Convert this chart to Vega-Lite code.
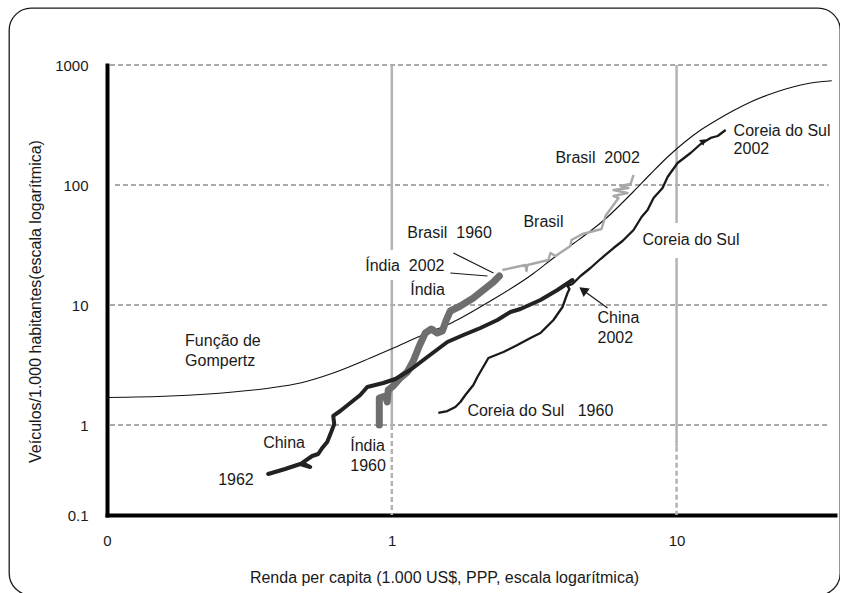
{
  "$schema": "https://vega.github.io/schema/vega-lite/v6.json",
  "width": 831,
  "height": 587,
  "autosize": {"type": "none"},
  "padding": {"left": 9, "top": 8, "right": 0, "bottom": 0},
  "background": "white",
  "config": {
    "font": "Liberation Sans",
    "view": {"stroke": "#1a1a1a", "strokeWidth": 1.3, "cornerRadius": 22},
    "axis": {
      "grid": false, "ticks": false, "tickSize": 0,
      "domainColor": "#000000", "domainWidth": 4, "domainCap": "square",
      "labelFont": "Liberation Sans", "labelFontSize": 15, "labelColor": "#1a1a1a",
      "titleFont": "Liberation Sans", "titleFontSize": 16, "titleFontWeight": "normal", "titleColor": "#1a1a1a",
      "labelOverlap": false, "labelFlush": false
    }
  },
  "datasets": {
    "hgrid": [
      {"x": 0.1025, "x2": 34.2, "y": 1000},
      {"x": 0.1067, "x2": 34.2, "y": 100},
      {"x": 0.1025, "x2": 34.2, "y": 10},
      {"x": 0.1025, "x2": 34.2, "y": 1}
    ],
    "vsolid": [
      {"x": 1, "y": 1000, "y2": 28.7},
      {"x": 1, "y": 16.2, "y2": 1},
      {"x": 10, "y": 1000, "y2": 48.2},
      {"x": 10, "y": 24.6, "y2": 0.66}
    ],
    "vdash": [
      {"x": 1, "y": 1, "y2": 0.1778},
      {"x": 10, "y": 0.66, "y2": 0.1778}
    ],
    "gompertz": [
      {"x": 0.1, "y": 1.695}, {"x": 0.1665, "y": 1.745}, {"x": 0.2773, "y": 1.884}, {"x": 0.3741, "y": 2.034},
      {"x": 0.4769, "y": 2.239}, {"x": 0.6228, "y": 2.713}, {"x": 0.8404, "y": 3.617}, {"x": 1.004, "y": 4.341},
      {"x": 1.259, "y": 5.516}, {"x": 1.632, "y": 7.147}, {"x": 2.22, "y": 10.8}, {"x": 3.144, "y": 18.31},
      {"x": 3.696, "y": 24.65}, {"x": 4.345, "y": 32.54}, {"x": 4.985, "y": 41.37}, {"x": 5.722, "y": 54.12},
      {"x": 6.357, "y": 68.79}, {"x": 7.062, "y": 88.28}, {"x": 8.101, "y": 123.5}, {"x": 9.298, "y": 171.1},
      {"x": 10.58, "y": 223.9}, {"x": 12.15, "y": 287.3}, {"x": 13.94, "y": 351.4}, {"x": 15.86, "y": 417.6},
      {"x": 18.2, "y": 491.7}, {"x": 20.89, "y": 562.3}, {"x": 24.16, "y": 631.0}, {"x": 27.29, "y": 681.3},
      {"x": 30.8, "y": 717.5}, {"x": 35.07, "y": 740.0}
    ],
    "brasil": [
      {"x": 2.445, "y": 19.57}, {"x": 2.946, "y": 21.54}, {"x": 2.971, "y": 19.2}, {"x": 2.994, "y": 21.54},
      {"x": 3.549, "y": 23.71}, {"x": 3.607, "y": 27.13}, {"x": 3.755, "y": 25.61}, {"x": 4.241, "y": 31.01},
      {"x": 4.275, "y": 34.81}, {"x": 4.674, "y": 39.06}, {"x": 5.45, "y": 42.99}, {"x": 5.628, "y": 55.16},
      {"x": 6.254, "y": 77.93}, {"x": 6.006, "y": 80.94}, {"x": 6.725, "y": 85.77}, {"x": 6.006, "y": 90.86},
      {"x": 6.78, "y": 94.41}, {"x": 6.357, "y": 98.1}, {"x": 6.891, "y": 101.9}, {"x": 7.062, "y": 121.2}
    ],
    "india": [
      {"x": 0.904, "y": 1.0}, {"x": 0.904, "y": 1.679}, {"x": 0.949, "y": 1.745}, {"x": 0.964, "y": 1.555},
      {"x": 0.972, "y": 1.957}, {"x": 1.012, "y": 2.113}, {"x": 1.071, "y": 2.465}, {"x": 1.134, "y": 2.765},
      {"x": 1.19, "y": 3.415}, {"x": 1.249, "y": 4.553}, {"x": 1.311, "y": 5.843}, {"x": 1.377, "y": 6.31},
      {"x": 1.445, "y": 5.843}, {"x": 1.505, "y": 6.072}, {"x": 1.554, "y": 7.499}, {"x": 1.605, "y": 8.913},
      {"x": 1.741, "y": 9.81}, {"x": 1.934, "y": 11.44}, {"x": 2.097, "y": 13.34}, {"x": 2.275, "y": 15.55},
      {"x": 2.387, "y": 17.45}
    ],
    "china": [
      {"x": 0.3681, "y": 0.3906}, {"x": 0.4222, "y": 0.4299}, {"x": 0.4769, "y": 0.4732}, {"x": 0.517, "y": 0.4467},
      {"x": 0.4846, "y": 0.4825}, {"x": 0.5254, "y": 0.5516}, {"x": 0.5516, "y": 0.5731}, {"x": 0.5698, "y": 0.6431},
      {"x": 0.5932, "y": 0.7216}, {"x": 0.6128, "y": 0.8744}, {"x": 0.628, "y": 1.019}, {"x": 0.6228, "y": 1.189},
      {"x": 0.6592, "y": 1.308}, {"x": 0.7147, "y": 1.526}, {"x": 0.775, "y": 1.778}, {"x": 0.82, "y": 2.074},
      {"x": 0.9335, "y": 2.239}, {"x": 1.029, "y": 2.417}, {"x": 1.161, "y": 2.873}, {"x": 1.333, "y": 3.687},
      {"x": 1.567, "y": 4.918}, {"x": 1.784, "y": 5.623}, {"x": 2.047, "y": 6.433}, {"x": 2.349, "y": 7.499},
      {"x": 2.61, "y": 8.745}, {"x": 2.829, "y": 9.261}, {"x": 3.327, "y": 11.01}, {"x": 3.817, "y": 13.34},
      {"x": 4.31, "y": 16.16}
    ],
    "korea": [
      {"x": 1.457, "y": 1.259}, {"x": 1.567, "y": 1.308}, {"x": 1.672, "y": 1.413}, {"x": 1.741, "y": 1.555},
      {"x": 1.813, "y": 1.778}, {"x": 1.934, "y": 2.154}, {"x": 1.998, "y": 2.512}, {"x": 2.184, "y": 3.617},
      {"x": 2.466, "y": 4.058}, {"x": 2.761, "y": 4.642}, {"x": 3.068, "y": 5.309}, {"x": 3.327, "y": 5.843},
      {"x": 3.696, "y": 7.499}, {"x": 3.976, "y": 9.624}, {"x": 4.14, "y": 12.59}, {"x": 4.207, "y": 13.59},
      {"x": 4.14, "y": 14.4}, {"x": 4.31, "y": 14.96}, {"x": 4.599, "y": 17.45}, {"x": 4.985, "y": 20.34},
      {"x": 5.406, "y": 24.17}, {"x": 6.006, "y": 29.85}, {"x": 6.459, "y": 34.15}, {"x": 7.062, "y": 42.17},
      {"x": 7.534, "y": 54.12}, {"x": 7.909, "y": 61.9}, {"x": 8.302, "y": 77.93}, {"x": 8.929, "y": 94.41},
      {"x": 9.298, "y": 116.6}, {"x": 10.08, "y": 152.5}, {"x": 11.2, "y": 184.8}, {"x": 12.15, "y": 219.6},
      {"x": 13.17, "y": 246.5}, {"x": 13.94, "y": 256.0}, {"x": 14.87, "y": 287.3}
    ],
    "leaders": [
      {"x": 1.645, "y": 27.13, "x2": 2.275, "y2": 18.48},
      {"x": 1.605, "y": 18.48, "x2": 2.167, "y2": 17.45},
      {"x": 5.722, "y": 9.441, "x2": 4.786, "y2": 12.83}
    ],
    "headChina": [{"x": 4.693, "y": 13.34}],
    "headKorea": [{"x": 12.44, "y": 232.6}],
    "labels": [
      {"label": "Função de", "x": 0.188, "y": 5.012},
      {"label": "Gompertz", "x": 0.188, "y": 3.415},
      {"label": "China", "x": 0.3534, "y": 0.7079},
      {"label": "1962", "x": 0.2456, "y": 0.348},
      {"label": "Índia", "x": 0.7147, "y": 0.6683},
      {"label": "1960", "x": 0.7147, "y": 0.4597},
      {"label": "Índia\u00a0\u00a02002", "x": 0.807, "y": 21.13},
      {"label": "Índia", "x": 1.161, "y": 13.34},
      {"label": "Brasil\u00a0\u00a01960", "x": 1.134, "y": 39.81},
      {"label": "Brasil", "x": 2.899, "y": 49.17},
      {"label": "Brasil\u00a0\u00a02002", "x": 3.755, "y": 167.9},
      {"label": "Coreia do Sul", "x": 15.86, "y": 281.8},
      {"label": "2002", "x": 15.86, "y": 199.5},
      {"label": "Coreia do Sul", "x": 7.595, "y": 34.81},
      {"label": "China", "x": 5.277, "y": 7.795},
      {"label": "2002", "x": 5.277, "y": 5.309},
      {"label": "Coreia do Sul\u00a0\u00a0\u00a01960", "x": 1.843, "y": 1.308}
    ]
  },
  "encoding": {
    "x": {
      "field": "x", "type": "quantitative",
      "scale": {"type": "log", "domain": [0.1, 36], "range": [98, 826], "nice": false},
      "axis": {
        "title": "Renda per capita (1.000 US$, PPP, escala logarítmica)",
        "values": [0.1, 1, 10],
        "labelExpr": "datum.value < 0.5 ? '0' : format(datum.value, 'd')",
        "offset": -80, "labelPadding": 18,
        "titleX": 435, "titleY": 62, "titleBaseline": "middle", "titleAlign": "center"
      }
    },
    "y": {
      "field": "y", "type": "quantitative",
      "scale": {"type": "log", "domain": [0.177828, 1000], "range": [507, 57], "nice": false},
      "axis": {
        "title": "Veículos/1.000 habitantes(escala logarítmica)",
        "values": [0.177828, 1, 10, 100, 1000],
        "labelExpr": "datum.value < 0.5 ? '0.1' : format(datum.value, 'd')",
        "offset": -98, "labelPadding": 19,
        "titleX": -72, "titleY": 293, "titleAngle": -90, "titleBaseline": "middle", "titleAlign": "center"
      }
    }
  },
  "layer": [
    {
      "data": {"name": "hgrid"},
      "mark": {"type": "rule", "color": "#a9a9a9", "strokeWidth": 2, "strokeDash": [5, 3]},
      "encoding": {"x2": {"field": "x2"}}
    },
    {
      "data": {"name": "vsolid"},
      "mark": {"type": "rule", "color": "#b3b3b3", "strokeWidth": 2.5},
      "encoding": {"y2": {"field": "y2"}}
    },
    {
      "data": {"name": "vdash"},
      "mark": {"type": "rule", "color": "#b3b3b3", "strokeWidth": 2.5, "strokeDash": [5, 3]},
      "encoding": {"y2": {"field": "y2"}}
    },
    {
      "data": {"name": "gompertz"},
      "mark": {"type": "line", "color": "#111111", "strokeWidth": 1.1, "interpolate": "monotone"},
      "encoding": {"order": {"value": null}}
    },
    {
      "data": {"name": "brasil"},
      "mark": {"type": "line", "color": "#a8a8a8", "strokeWidth": 2.4, "strokeJoin": "round"},
      "encoding": {"order": {"value": null}}
    },
    {
      "data": {"name": "india"},
      "mark": {"type": "line", "color": "#6e6e6e", "strokeWidth": 7, "strokeCap": "round", "strokeJoin": "round"},
      "encoding": {"order": {"value": null}}
    },
    {
      "data": {"name": "china"},
      "mark": {"type": "line", "color": "#222222", "strokeWidth": 4, "strokeCap": "round", "strokeJoin": "round"},
      "encoding": {"order": {"value": null}}
    },
    {
      "data": {"name": "korea"},
      "mark": {"type": "line", "color": "#1a1a1a", "strokeWidth": 2.3, "strokeJoin": "round"},
      "encoding": {"order": {"value": null}}
    },
    {
      "data": {"name": "leaders"},
      "mark": {"type": "rule", "color": "#1a1a1a", "strokeWidth": 1.2},
      "encoding": {"x2": {"field": "x2"}, "y2": {"field": "y2"}}
    },
    {
      "data": {"name": "headChina"},
      "mark": {"type": "point", "shape": "triangle-right", "filled": true, "color": "#1a1a1a", "opacity": 1, "size": 110, "angle": 216}
    },
    {
      "data": {"name": "headKorea"},
      "mark": {"type": "point", "shape": "triangle-right", "filled": true, "color": "#1a1a1a", "opacity": 1, "size": 50, "angle": 323}
    },
    {
      "data": {"name": "labels"},
      "mark": {"type": "text", "align": "left", "baseline": "middle", "fontSize": 16, "color": "#1a1a1a", "font": "Liberation Sans"},
      "encoding": {"text": {"field": "label"}}
    }
  ]
}
